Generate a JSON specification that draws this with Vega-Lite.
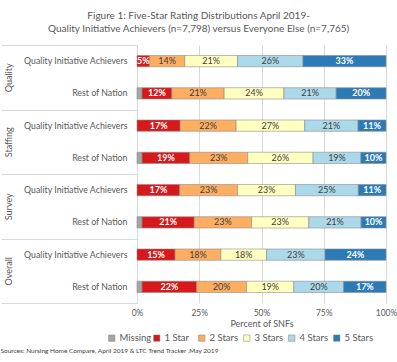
{
  "$schema": "https://vega.github.io/schema/vega-lite/v6.json",
  "padding": {"left": 0, "top": 10, "right": 11, "bottom": 2},
  "background": "white",
  "config": {"font": "Lato", "view": {"stroke": null}},
  "title": {
    "text": ["Figure 1: Five-Star Rating Distributions April 2019-", "Quality Initiative Achievers (n=7,798) versus Everyone Else  (n=7,765)"],
    "fontSize": 10, "fontWeight": "normal", "color": "#595959", "lineHeight": 13, "anchor": "middle", "offset": 11
  },
  "resolve": {"scale": {"color": "independent"}},
  "vconcat": [
    {
      "width": 249,
      "height": 258,
      "title": {
        "text": "Sources: Nursing Home Compare, April 2019 & LTC Trend Tracker ,May 2019",
        "orient": "bottom", "anchor": "start", "fontSize": 6.5, "fontWeight": "normal", "color": "#404040", "offset": 5
      },
      "data": {
        "values": [
          {"Category": "Quality", "Group": "Quality Initiative Achievers", "Rating": "1 Star", "Rank": 1, "Pct": 0.05},
          {"Category": "Quality", "Group": "Quality Initiative Achievers", "Rating": "2 Stars", "Rank": 2, "Pct": 0.14},
          {"Category": "Quality", "Group": "Quality Initiative Achievers", "Rating": "3 Stars", "Rank": 3, "Pct": 0.21},
          {"Category": "Quality", "Group": "Quality Initiative Achievers", "Rating": "4 Stars", "Rank": 4, "Pct": 0.26},
          {"Category": "Quality", "Group": "Quality Initiative Achievers", "Rating": "5 Stars", "Rank": 5, "Pct": 0.33},
          {"Category": "Quality", "Group": "Rest of Nation", "Rating": "Missing", "Rank": 0, "Pct": 0.02},
          {"Category": "Quality", "Group": "Rest of Nation", "Rating": "1 Star", "Rank": 1, "Pct": 0.12},
          {"Category": "Quality", "Group": "Rest of Nation", "Rating": "2 Stars", "Rank": 2, "Pct": 0.21},
          {"Category": "Quality", "Group": "Rest of Nation", "Rating": "3 Stars", "Rank": 3, "Pct": 0.24},
          {"Category": "Quality", "Group": "Rest of Nation", "Rating": "4 Stars", "Rank": 4, "Pct": 0.21},
          {"Category": "Quality", "Group": "Rest of Nation", "Rating": "5 Stars", "Rank": 5, "Pct": 0.20},
          {"Category": "Staffing", "Group": "Quality Initiative Achievers", "Rating": "1 Star", "Rank": 1, "Pct": 0.17},
          {"Category": "Staffing", "Group": "Quality Initiative Achievers", "Rating": "2 Stars", "Rank": 2, "Pct": 0.22},
          {"Category": "Staffing", "Group": "Quality Initiative Achievers", "Rating": "3 Stars", "Rank": 3, "Pct": 0.27},
          {"Category": "Staffing", "Group": "Quality Initiative Achievers", "Rating": "4 Stars", "Rank": 4, "Pct": 0.21},
          {"Category": "Staffing", "Group": "Quality Initiative Achievers", "Rating": "5 Stars", "Rank": 5, "Pct": 0.11},
          {"Category": "Staffing", "Group": "Rest of Nation", "Rating": "Missing", "Rank": 0, "Pct": 0.02},
          {"Category": "Staffing", "Group": "Rest of Nation", "Rating": "1 Star", "Rank": 1, "Pct": 0.19},
          {"Category": "Staffing", "Group": "Rest of Nation", "Rating": "2 Stars", "Rank": 2, "Pct": 0.23},
          {"Category": "Staffing", "Group": "Rest of Nation", "Rating": "3 Stars", "Rank": 3, "Pct": 0.26},
          {"Category": "Staffing", "Group": "Rest of Nation", "Rating": "4 Stars", "Rank": 4, "Pct": 0.19},
          {"Category": "Staffing", "Group": "Rest of Nation", "Rating": "5 Stars", "Rank": 5, "Pct": 0.10},
          {"Category": "Survey", "Group": "Quality Initiative Achievers", "Rating": "1 Star", "Rank": 1, "Pct": 0.17},
          {"Category": "Survey", "Group": "Quality Initiative Achievers", "Rating": "2 Stars", "Rank": 2, "Pct": 0.23},
          {"Category": "Survey", "Group": "Quality Initiative Achievers", "Rating": "3 Stars", "Rank": 3, "Pct": 0.23},
          {"Category": "Survey", "Group": "Quality Initiative Achievers", "Rating": "4 Stars", "Rank": 4, "Pct": 0.25},
          {"Category": "Survey", "Group": "Quality Initiative Achievers", "Rating": "5 Stars", "Rank": 5, "Pct": 0.11},
          {"Category": "Survey", "Group": "Rest of Nation", "Rating": "Missing", "Rank": 0, "Pct": 0.02},
          {"Category": "Survey", "Group": "Rest of Nation", "Rating": "1 Star", "Rank": 1, "Pct": 0.21},
          {"Category": "Survey", "Group": "Rest of Nation", "Rating": "2 Stars", "Rank": 2, "Pct": 0.23},
          {"Category": "Survey", "Group": "Rest of Nation", "Rating": "3 Stars", "Rank": 3, "Pct": 0.23},
          {"Category": "Survey", "Group": "Rest of Nation", "Rating": "4 Stars", "Rank": 4, "Pct": 0.21},
          {"Category": "Survey", "Group": "Rest of Nation", "Rating": "5 Stars", "Rank": 5, "Pct": 0.10},
          {"Category": "Overall", "Group": "Quality Initiative Achievers", "Rating": "1 Star", "Rank": 1, "Pct": 0.15},
          {"Category": "Overall", "Group": "Quality Initiative Achievers", "Rating": "2 Stars", "Rank": 2, "Pct": 0.18},
          {"Category": "Overall", "Group": "Quality Initiative Achievers", "Rating": "3 Stars", "Rank": 3, "Pct": 0.18},
          {"Category": "Overall", "Group": "Quality Initiative Achievers", "Rating": "4 Stars", "Rank": 4, "Pct": 0.23},
          {"Category": "Overall", "Group": "Quality Initiative Achievers", "Rating": "5 Stars", "Rank": 5, "Pct": 0.24},
          {"Category": "Overall", "Group": "Rest of Nation", "Rating": "Missing", "Rank": 0, "Pct": 0.02},
          {"Category": "Overall", "Group": "Rest of Nation", "Rating": "1 Star", "Rank": 1, "Pct": 0.22},
          {"Category": "Overall", "Group": "Rest of Nation", "Rating": "2 Stars", "Rank": 2, "Pct": 0.20},
          {"Category": "Overall", "Group": "Rest of Nation", "Rating": "3 Stars", "Rank": 3, "Pct": 0.19},
          {"Category": "Overall", "Group": "Rest of Nation", "Rating": "4 Stars", "Rank": 4, "Pct": 0.20},
          {"Category": "Overall", "Group": "Rest of Nation", "Rating": "5 Stars", "Rank": 5, "Pct": 0.17}
        ]
      },
      "transform": [
        {"calculate": "datum.Category + '|' + datum.Group", "as": "Row"},
        {"stack": "Pct", "groupby": ["Category", "Group"], "sort": [{"field": "Rank", "order": "ascending"}], "offset": "normalize", "as": ["x0", "x1"]},
        {"calculate": "(datum.x0 + datum.x1) / 2", "as": "xmid"}
      ],
      "layer": [
        {
          "layer": [
            {
              "mark": {"type": "bar", "stroke": "#8c8c8c", "strokeWidth": 0.6},
              "encoding": {
                "x": {
                  "field": "x0", "type": "quantitative",
                  "scale": {"domain": [0, 1], "nice": false},
                  "axis": {
                    "values": [0, 0.25, 0.5, 0.75, 1], "format": ".0%", "domain": false, "ticks": false,
                    "gridColor": "#d9d9d9", "labelFontSize": 8.5, "labelColor": "#595959", "labelFlush": false,
                    "labelPadding": 5, "title": "Percent of SNFs", "titleFontSize": 9, "titleFontWeight": "normal",
                    "titleColor": "#595959", "titlePadding": 3
                  }
                },
                "x2": {"field": "x1"},
                "y": {
                  "field": "Row", "type": "nominal",
                  "scale": {
                    "domain": [
                      "Quality|Quality Initiative Achievers", "Quality|Rest of Nation",
                      "Staffing|Quality Initiative Achievers", "Staffing|Rest of Nation",
                      "Survey|Quality Initiative Achievers", "Survey|Rest of Nation",
                      "Overall|Quality Initiative Achievers", "Overall|Rest of Nation"
                    ],
                    "paddingInner": 0.65, "paddingOuter": 0.325
                  },
                  "axis": {
                    "title": null, "labelExpr": "split(datum.label, '|')[1]", "ticks": false,
                    "domainColor": "#d9d9d9", "labelPadding": 10, "labelFontSize": 8.8,
                    "labelColor": "#595959", "labelLimit": 200
                  }
                },
                "color": {
                  "field": "Rating", "type": "nominal",
                  "scale": {
                    "domain": ["Missing", "1 Star", "2 Stars", "3 Stars", "4 Stars", "5 Stars"],
                    "range": ["#a5a5a5", "#d7191c", "#fdae61", "#ffffbf", "#abd9e9", "#2c7bb6"]
                  },
                  "legend": {
                    "orient": "none", "legendX": -30, "legendY": 288, "direction": "horizontal", "title": null,
                    "symbolType": "square", "symbolSize": 40, "symbolStrokeColor": "#7f7f7f", "symbolStrokeWidth": 0.5,
                    "labelFontSize": 9.5, "labelColor": "#595959", "columns": 6, "gridAlign": "all",
                    "columnPadding": 0, "labelOffset": 3
                  }
                }
              }
            },
            {
              "transform": [{"filter": "datum.Rank == 1 || datum.Rank == 5"}],
              "mark": {"type": "text", "color": "white", "fontWeight": "bold", "fontSize": 9},
              "encoding": {
                "x": {"field": "xmid", "type": "quantitative"},
                "y": {"field": "Row", "type": "nominal"},
                "text": {"field": "Pct", "type": "quantitative", "format": ".0%"}
              }
            },
            {
              "transform": [{"filter": "datum.Rank >= 2 && datum.Rank <= 4"}],
              "mark": {"type": "text", "color": "#404040", "fontSize": 9},
              "encoding": {
                "x": {"field": "xmid", "type": "quantitative"},
                "y": {"field": "Row", "type": "nominal"},
                "text": {"field": "Pct", "type": "quantitative", "format": ".0%"}
              }
            }
          ]
        },
        {
          "mark": {"type": "rect", "opacity": 0},
          "encoding": {
            "y": {
              "field": "Category", "type": "nominal",
              "scale": {"domain": ["Quality", "Staffing", "Survey", "Overall"], "paddingInner": 0, "paddingOuter": 0},
              "axis": {
                "orient": "left", "title": null, "domain": false, "tickBand": "extent", "tickSize": 136,
                "tickColor": "#d9d9d9", "labelAngle": -90, "labelPadding": -12, "labelFontSize": 9,
                "labelColor": "#595959"
              }
            }
          }
        }
      ],
      "resolve": {"scale": {"y": "independent"}, "axis": {"y": "independent"}}
    }
  ]
}
